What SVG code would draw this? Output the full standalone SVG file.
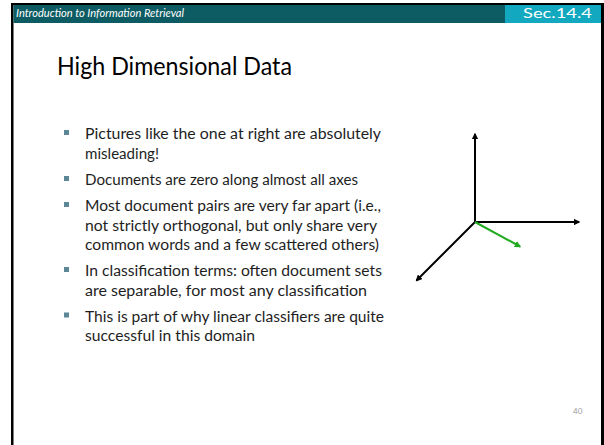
<svg xmlns="http://www.w3.org/2000/svg" width="604" height="445" viewBox="0 0 604 445">
  <style>
    .hdr { font-family: "Lato", "Liberation Sans", sans-serif; fill: #ffffff; }
    .title { font-family: "Lato", "Liberation Sans", sans-serif; font-size: 24.5px; fill: #000000; }
    .body { font-family: "Lato", "Liberation Sans", sans-serif; font-size: 15.5px; fill: #1e1e1e; }
    .bullet { fill: #5b8797; }
    .axis { stroke: #000000; stroke-width: 2; fill: none; }
    .vec { stroke: #1faa1f; stroke-width: 2; fill: none; }
    .pgnum { font-family: "Lato", "Liberation Sans", sans-serif; font-size: 8px; fill: #9a9a9a; }
  </style>
  <defs>
    <marker id="arrowBlack" viewBox="0 0 10 10" refX="8" refY="5" markerWidth="3.3" markerHeight="3.3" orient="auto" markerUnits="strokeWidth">
      <path d="M0,0 L10,5 L0,10 z" fill="#000000"/>
    </marker>
    <marker id="arrowGreen" viewBox="0 0 10 10" refX="8" refY="5" markerWidth="3.3" markerHeight="3.3" orient="auto" markerUnits="strokeWidth">
      <path d="M0,0 L10,5 L0,10 z" fill="#1faa1f"/>
    </marker>
  </defs>

  <!-- page background -->
  <rect x="0" y="0" width="604" height="445" fill="#ffffff"/>

  <!-- slide frame -->
  <g id="frame">
    <rect x="11" y="3" width="593" height="2" fill="#000000"/>
    <rect x="11" y="3" width="2.5" height="442" fill="#000000"/>
    <rect x="601" y="3" width="3" height="442" fill="#000000"/>
  </g>

  <!-- header bar -->
  <g id="header">
    <rect x="13.5" y="5" width="587.5" height="18" fill="#0d5b63"/>
    <rect x="505" y="5" width="96" height="18" fill="#12a8c0"/>
    <text class="hdr" x="16" y="17" font-size="11.5" font-style="italic" textLength="168" lengthAdjust="spacingAndGlyphs">Introduction to Information Retrieval</text>
    <text class="hdr" x="523" y="18" font-size="12.5" textLength="69" lengthAdjust="spacingAndGlyphs">Sec.14.4</text>
  </g>

  <!-- title -->
  <g id="title">
    <text class="title" x="57" y="75" textLength="235" lengthAdjust="spacingAndGlyphs">High Dimensional Data</text>
  </g>

  <!-- bullet list -->
  <g id="bullets">
    <rect class="bullet" x="64" y="130" width="5" height="5"/>
    <text class="body" x="85" y="139" textLength="296" lengthAdjust="spacingAndGlyphs">Pictures like the one at right are absolutely</text>
    <text class="body" x="85" y="158.5" textLength="74" lengthAdjust="spacingAndGlyphs">misleading!</text>

    <rect class="bullet" x="64" y="176" width="5" height="5"/>
    <text class="body" x="85" y="185" textLength="273" lengthAdjust="spacingAndGlyphs">Documents are zero along almost all axes</text>

    <rect class="bullet" x="64" y="202" width="5" height="5"/>
    <text class="body" x="85" y="211" textLength="296" lengthAdjust="spacingAndGlyphs">Most document pairs are very far apart (i.e.,</text>
    <text class="body" x="85" y="230.5" textLength="292" lengthAdjust="spacingAndGlyphs">not strictly orthogonal, but only share very</text>
    <text class="body" x="85" y="250" textLength="294" lengthAdjust="spacingAndGlyphs">common words and a few scattered others)</text>

    <rect class="bullet" x="64" y="267" width="5" height="5"/>
    <text class="body" x="85" y="276" textLength="297" lengthAdjust="spacingAndGlyphs">In classification terms: often document sets</text>
    <text class="body" x="85" y="295.5" textLength="282" lengthAdjust="spacingAndGlyphs">are separable, for most any classification</text>

    <rect class="bullet" x="64" y="312.5" width="5" height="5"/>
    <text class="body" x="85" y="321.5" textLength="299" lengthAdjust="spacingAndGlyphs">This is part of why linear classifiers are quite</text>
    <text class="body" x="85" y="341" textLength="170" lengthAdjust="spacingAndGlyphs">successful in this domain</text>
  </g>

  <!-- coordinate axes with one document vector -->
  <g id="connectors">
    <line class="axis" x1="475" y1="222" x2="475" y2="134" marker-end="url(#arrowBlack)"/>
    <line class="axis" x1="475" y1="222" x2="579" y2="222" marker-end="url(#arrowBlack)"/>
    <line class="axis" x1="475" y1="222" x2="416.5" y2="280.5" marker-end="url(#arrowBlack)"/>
    <line class="vec" x1="475" y1="222" x2="520" y2="246.5" marker-end="url(#arrowGreen)"/>
  </g>

  <!-- page number -->
  <g id="page-number">
    <text class="pgnum" x="573" y="414">40</text>
  </g>
</svg>
